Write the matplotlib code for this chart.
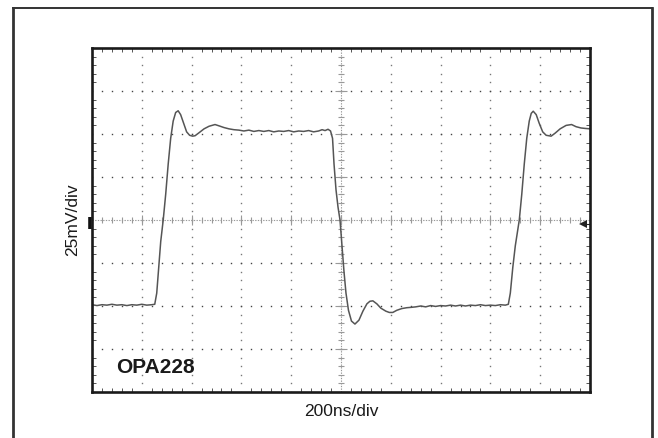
import numpy as np
import matplotlib
matplotlib.use('Agg')
import matplotlib.pyplot as plt
from matplotlib.lines import Line2D

plt.rcParams['font.family'] = ['Liberation Sans', 'DejaVu Sans']

# scope trace, in divisions (x: 0..10, y: -4..4)
t = [0.00, 0.10, 0.20, 0.30, 0.40, 0.50, 0.60, 0.70, 0.80, 0.90, 1.00, 1.10, 1.20, 1.26,
     1.30, 1.34, 1.38, 1.43, 1.48, 1.53, 1.58, 1.63, 1.68, 1.73, 1.78, 1.84, 1.90, 1.96,
     2.02, 2.07, 2.15, 2.25, 2.35, 2.47, 2.55, 2.65, 2.75, 2.85,
     2.95, 3.05, 3.15, 3.25, 3.35, 3.45, 3.55, 3.65, 3.75, 3.85, 3.95, 4.05, 4.15, 4.25,
     4.35, 4.45, 4.55, 4.62, 4.68, 4.74, 4.79,
     4.83, 4.86, 4.90, 4.94, 4.98, 5.02, 5.06, 5.10, 5.15, 5.21, 5.28, 5.36, 5.44, 5.52,
     5.58, 5.64, 5.72, 5.80, 5.90, 5.97, 6.04, 6.12, 6.22, 6.32, 6.42,
     6.50, 6.60, 6.70, 6.80, 6.90, 7.00, 7.10, 7.20, 7.30, 7.40, 7.50, 7.60, 7.70, 7.80,
     7.90, 8.00, 8.10, 8.20, 8.30, 8.36,
     8.40, 8.45, 8.50, 8.58, 8.63, 8.68, 8.73, 8.78, 8.82, 8.86, 8.92, 8.98, 9.05, 9.12,
     9.22, 9.30, 9.40, 9.52, 9.63, 9.72, 9.82, 9.90, 10.00]
v = [-1.97, -1.99, -1.97, -1.98, -1.96, -1.98, -1.97, -1.99, -1.97, -1.98, -1.96, -1.98, -1.97, -1.96,
     -1.70, -1.10, -0.50, 0.00, 0.60, 1.30, 1.90, 2.30, 2.50, 2.54, 2.45, 2.25, 2.05, 1.97,
     1.95, 1.96, 2.03, 2.12, 2.18, 2.22, 2.19, 2.15, 2.12, 2.10,
     2.09, 2.07, 2.09, 2.06, 2.08, 2.06, 2.08, 2.05, 2.07, 2.06, 2.08, 2.05, 2.07, 2.06,
     2.08, 2.05, 2.07, 2.10, 2.08, 2.11, 2.07,
     1.90, 1.30, 0.70, 0.30, 0.00, -0.60, -1.20, -1.70, -2.10, -2.35, -2.42, -2.33, -2.12, -1.95,
     -1.89, -1.88, -1.95, -2.05, -2.12, -2.15, -2.15, -2.10, -2.06, -2.04, -2.03,
     -2.02, -2.00, -2.02, -1.99, -2.01, -1.99, -2.00, -1.98, -2.00, -1.98, -2.00, -1.98, -1.99, -1.97,
     -1.99, -1.98, -1.99, -1.97, -1.98, -1.96,
     -1.70, -1.10, -0.60, 0.00, 0.60, 1.30, 1.90, 2.30, 2.48, 2.53, 2.45, 2.25, 2.05, 1.97,
     1.95, 2.02, 2.12, 2.20, 2.22, 2.17, 2.14, 2.13, 2.12]

x_divs = np.arange(0, 11)
y_divs = np.arange(-4, 5)
x_minor = np.arange(0, 10.01, 0.2)
y_minor = np.arange(-4, 4.01, 0.2)

fig = plt.figure(figsize=(6.58, 4.38), dpi=100)
ax = fig.add_axes([92 / 658, 1 - 392 / 438, 498 / 658, 344 / 438])
ax.set_xlim(0, 10)
ax.set_ylim(-4, 4)

# dotted graticule
grid_col = '#777777'
for xv in x_divs[1:-1]:
    if xv != 5:
        ax.plot(np.full(len(y_minor), xv), y_minor, ls='none', marker='s', ms=1.0,
                color=grid_col, mew=0)
for yv in y_divs[1:-1]:
    if yv != 0:
        ax.plot(x_minor, np.full(len(x_minor), yv), ls='none', marker='s', ms=1.0,
                color='#444444', mew=0)

# centre crosshair with small ticks
cross_col = '#999999'
ax.axhline(0, color=cross_col, lw=0.8, ls=(0, (1.2, 1.2)))
ax.axvline(5, color=cross_col, lw=0.8, ls=(0, (1.2, 1.2)))
ax.plot(x_minor, np.zeros(len(x_minor)), ls='none', marker='|', ms=4, mew=0.8, color=cross_col)
ax.plot(x_divs, np.zeros(len(x_divs)), ls='none', marker='|', ms=7, mew=0.8, color=cross_col)
ax.plot(np.full(len(y_minor), 5), y_minor, ls='none', marker='_', ms=5, mew=0.8, color=cross_col)
ax.plot(np.full(len(y_divs), 5), y_divs, ls='none', marker='_', ms=8, mew=0.8, color=cross_col)

# trace
ax.plot(t, v, color='#555555', lw=1.1)

# ground marker and trigger arrow
ax.plot([-0.04, -0.04], [0.07, -0.21], color='#111111', lw=2.6, solid_capstyle='butt', clip_on=False)
ax.plot([9.85, 10], [-0.1, -0.1], color='#222222', lw=0.8)
ax.plot([9.85], [-0.1], marker='<', ms=5.5, color='#222222', mew=0)

ax.set_xticks(x_divs)
ax.set_yticks(y_divs)
ax.set_xticks(x_minor, minor=True)
ax.set_yticks(y_minor, minor=True)
ax.tick_params(which='both', direction='in', top=True, right=True,
               labelbottom=False, labelleft=False, color='#555555')
ax.tick_params(which='major', length=0)
ax.tick_params(which='minor', length=3, width=0.7)
for s in ax.spines.values():
    s.set_linewidth(1.9)
    s.set_color('#1a1a1a')

ax.text((116 - 92) / 498, 1 - (372.7 - 48) / 344, 'OPA228', transform=ax.transAxes,
        fontsize=15, fontweight='bold', va='baseline', ha='left', color='#1a1a1a')

fig.text(73 / 658, 1 - 219.5 / 438, '25mV/div', rotation=90, ha='center', va='center',
         fontsize=12.5, color='#1a1a1a')
fig.text(341 / 658, 1 - 411 / 438, '200ns/div', ha='center', va='center',
         fontsize=12.5, color='#1a1a1a')

# outer border
for xs, ys, lw in [([13, 13], [8, 440], 2.0), ([13, 652], [8, 8], 1.4), ([652, 652], [8, 440], 2.0)]:
    fig.add_artist(Line2D(np.array(xs) / 658, 1 - np.array(ys) / 438, color='#333333', lw=lw))

fig.savefig('out.png', dpi=100)
